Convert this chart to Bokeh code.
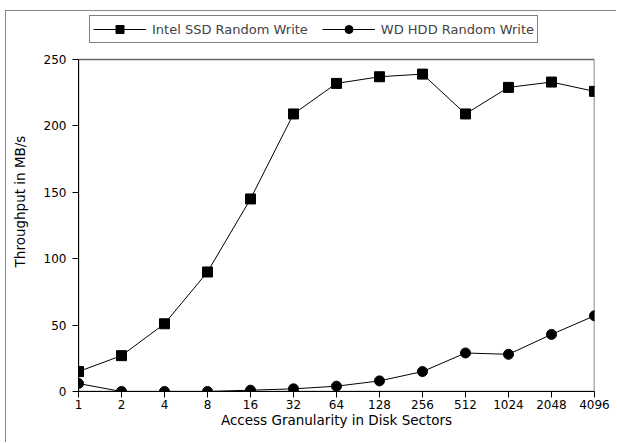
from bokeh.plotting import figure
from bokeh.models import Range1d, FixedTicker, Legend, LegendItem
from bokeh.embed import file_html
from bokeh.resources import INLINE

categories = ["1", "2", "4", "8", "16", "32", "64", "128", "256", "512", "1024", "2048", "4096"]
ssd_values = [15, 27, 51, 90, 145, 209, 232, 237, 239, 209, 229, 233, 226]
hdd_values = [6, 0, 0, 0, 1, 2, 4, 8, 15, 29, 28, 43, 57]
y_ticks = [0, 50, 100, 150, 200, 250]
y_max = 250

FONT = "DejaVu Sans"
xs = list(range(len(categories)))

# frame spans from the top of the canvas down to the x axis; the data box ends at y_max
y_top = y_max * 380 / 332

p = figure(width=611, height=432, output_backend="svg", toolbar_location=None,
           x_range=Range1d(0, len(categories) - 1), y_range=Range1d(0, y_top),
           min_border_left=72, min_border_right=23, min_border_top=0, min_border_bottom=52,
           styles={"border-left": "1px solid #888888", "border-top": "1px solid #888888",
                   "margin-left": "5px", "margin-top": "10px"})
p.grid.visible = False
p.outline_line_color = None

# gray box around the data area (left/bottom edges are covered by the black axes)
p.quad(left=[xs[0]], right=[xs[-1]], bottom=[y_ticks[0]], top=[y_max],
       fill_alpha=0, line_color="#666666", line_width=1.5)

p.xaxis.ticker = FixedTicker(ticks=xs)
p.xaxis.major_label_overrides = {i: c for i, c in enumerate(categories)}
p.xaxis.minor_tick_line_color = None
p.yaxis.minor_tick_line_color = None
p.yaxis.ticker = FixedTicker(ticks=y_ticks)
p.yaxis.bounds = (0, y_max)
for ax in (p.xaxis[0], p.yaxis[0]):
    ax.axis_line_color = "black"
    ax.major_tick_line_color = "black"
    ax.major_tick_in = 0
    ax.major_tick_out = 6
    ax.major_label_text_font = FONT
    ax.major_label_text_font_size = "12px"
    ax.major_label_text_color = "black"
    ax.axis_label_text_font = FONT
    ax.axis_label_text_font_size = "13.5px"
    ax.axis_label_text_font_style = "normal"
    ax.axis_label_text_color = "black"
p.xaxis.axis_label = "Access Granularity in Disk Sectors"
p.yaxis.axis_label = "Throughput in MB/s"
p.xaxis.major_label_standoff = 2
p.yaxis.major_label_standoff = 6
p.xaxis.axis_label_standoff = 0
p.yaxis.axis_label_standoff = 13

l1 = p.line(xs, ssd_values, line_color="black", line_width=1)
m1 = p.scatter(xs, ssd_values, marker="square", size=10, fill_color="black", line_color="black")
l2 = p.line(xs, hdd_values, line_color="black", line_width=1)
m2 = p.scatter(xs, hdd_values, marker="circle", size=10, fill_color="black", line_color="black")

legend = Legend(items=[LegendItem(label="Intel SSD Random Write", renderers=[l1, m1]),
                       LegendItem(label="WD HDD Random Write", renderers=[l2, m2])],
                orientation="horizontal", location=(11, 348),
                border_line_color="black", border_line_width=1,
                label_text_font=FONT, label_text_font_size="13px",
                label_height=20, glyph_height=20, label_standoff=6,
                glyph_width=53, padding=3, spacing=14, margin=0,
                background_fill_alpha=1)
p.add_layout(legend, "center")

open("out.html", "w").write(file_html(p, INLINE))
